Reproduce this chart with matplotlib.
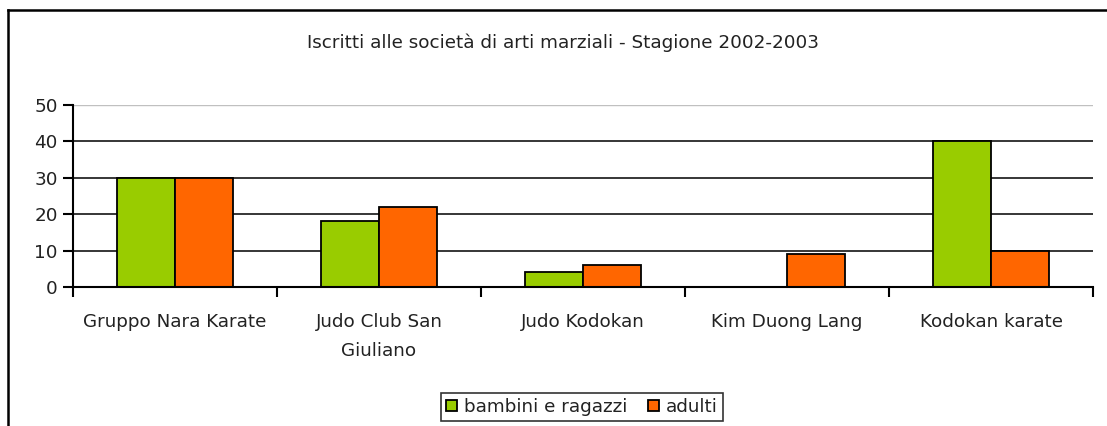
import matplotlib
matplotlib.use("Agg")
import matplotlib.pyplot as plt
from matplotlib.lines import Line2D
import numpy as np

categories = ["Gruppo Nara Karate", "Judo Club San\nGiuliano", "Judo Kodokan",
              "Kim Duong Lang", "Kodokan karate"]
bambini = [30, 18, 4, 0, 40]
adulti = [30, 22, 6, 9, 10]
series_names = ["bambini e ragazzi", "adulti"]
title = "Iscritti alle società di arti marziali - Stagione 2002-2003"
yticks = [0, 10, 20, 30, 40, 50]

plt.rcParams['font.family'] = ['DejaVu Sans']
FS = 13.2
W, H = 1107, 426
fig = plt.figure(figsize=(W/100, H/100), dpi=100)
ax = fig.add_axes([73/W, 1-287/H, (1093-73)/W, (287-105)/H])

x = np.arange(len(categories))
bw = 58/204
ax.bar(x - bw/2, bambini, bw, color="#99CC00", edgecolor="black", linewidth=1.3,
       label=series_names[0], zorder=3)
ax.bar(x + bw/2, adulti, bw, color="#FF6600", edgecolor="black", linewidth=1.3,
       label=series_names[1], zorder=3)

ax.set_xlim(-0.5, len(categories) - 0.5)
ax.set_ylim(0, 50)
ax.set_yticks(yticks)
ax.set_yticklabels([str(v) for v in yticks], fontsize=FS, color="#222222")
for v in yticks[1:-1]:
    ax.axhline(v, color="black", linewidth=1.1, zorder=1)
ax.axhline(50, color="#c0c0c0", linewidth=1.0, zorder=1)

ax.set_xticks(x)
ax.set_xticklabels(categories, fontsize=FS, color="#222222", linespacing=1.75)
ax.tick_params(axis='x', length=0, pad=19)
ax.set_xticks(np.arange(len(categories) + 1) - 0.5, minor=True)
ax.tick_params(axis='x', which='minor', length=7, width=1.5, direction='out')
ax.tick_params(axis='y', length=7, width=1.5, direction='out', pad=4)

for s in ["top", "right"]:
    ax.spines[s].set_visible(False)
for s in ["left", "bottom"]:
    ax.spines[s].set_linewidth(1.5)
    ax.spines[s].set_zorder(4)

fig.text(563/W, 1-43/H, title, ha="center", va="center", fontsize=FS, color="#222222")

leg = fig.legend(loc="center", bbox_to_anchor=(582/W, 1-407/H), ncol=2,
                 fontsize=FS, frameon=True, fancybox=False, edgecolor="black",
                 handlelength=0.6, handleheight=0.6, handletextpad=0.4,
                 columnspacing=1.1, borderpad=0.25, borderaxespad=0)
leg.get_frame().set_linewidth(1.2)
for t in leg.get_texts():
    t.set_color("#222222")

fig.add_artist(Line2D([8/W, 8/W], [0, 1-10/H], color="black", linewidth=1.8,
                      transform=fig.transFigure))
fig.add_artist(Line2D([8/W, 1], [1-10/H, 1-10/H], color="black", linewidth=1.8,
                      transform=fig.transFigure))

fig.savefig("out.png", dpi=100)
